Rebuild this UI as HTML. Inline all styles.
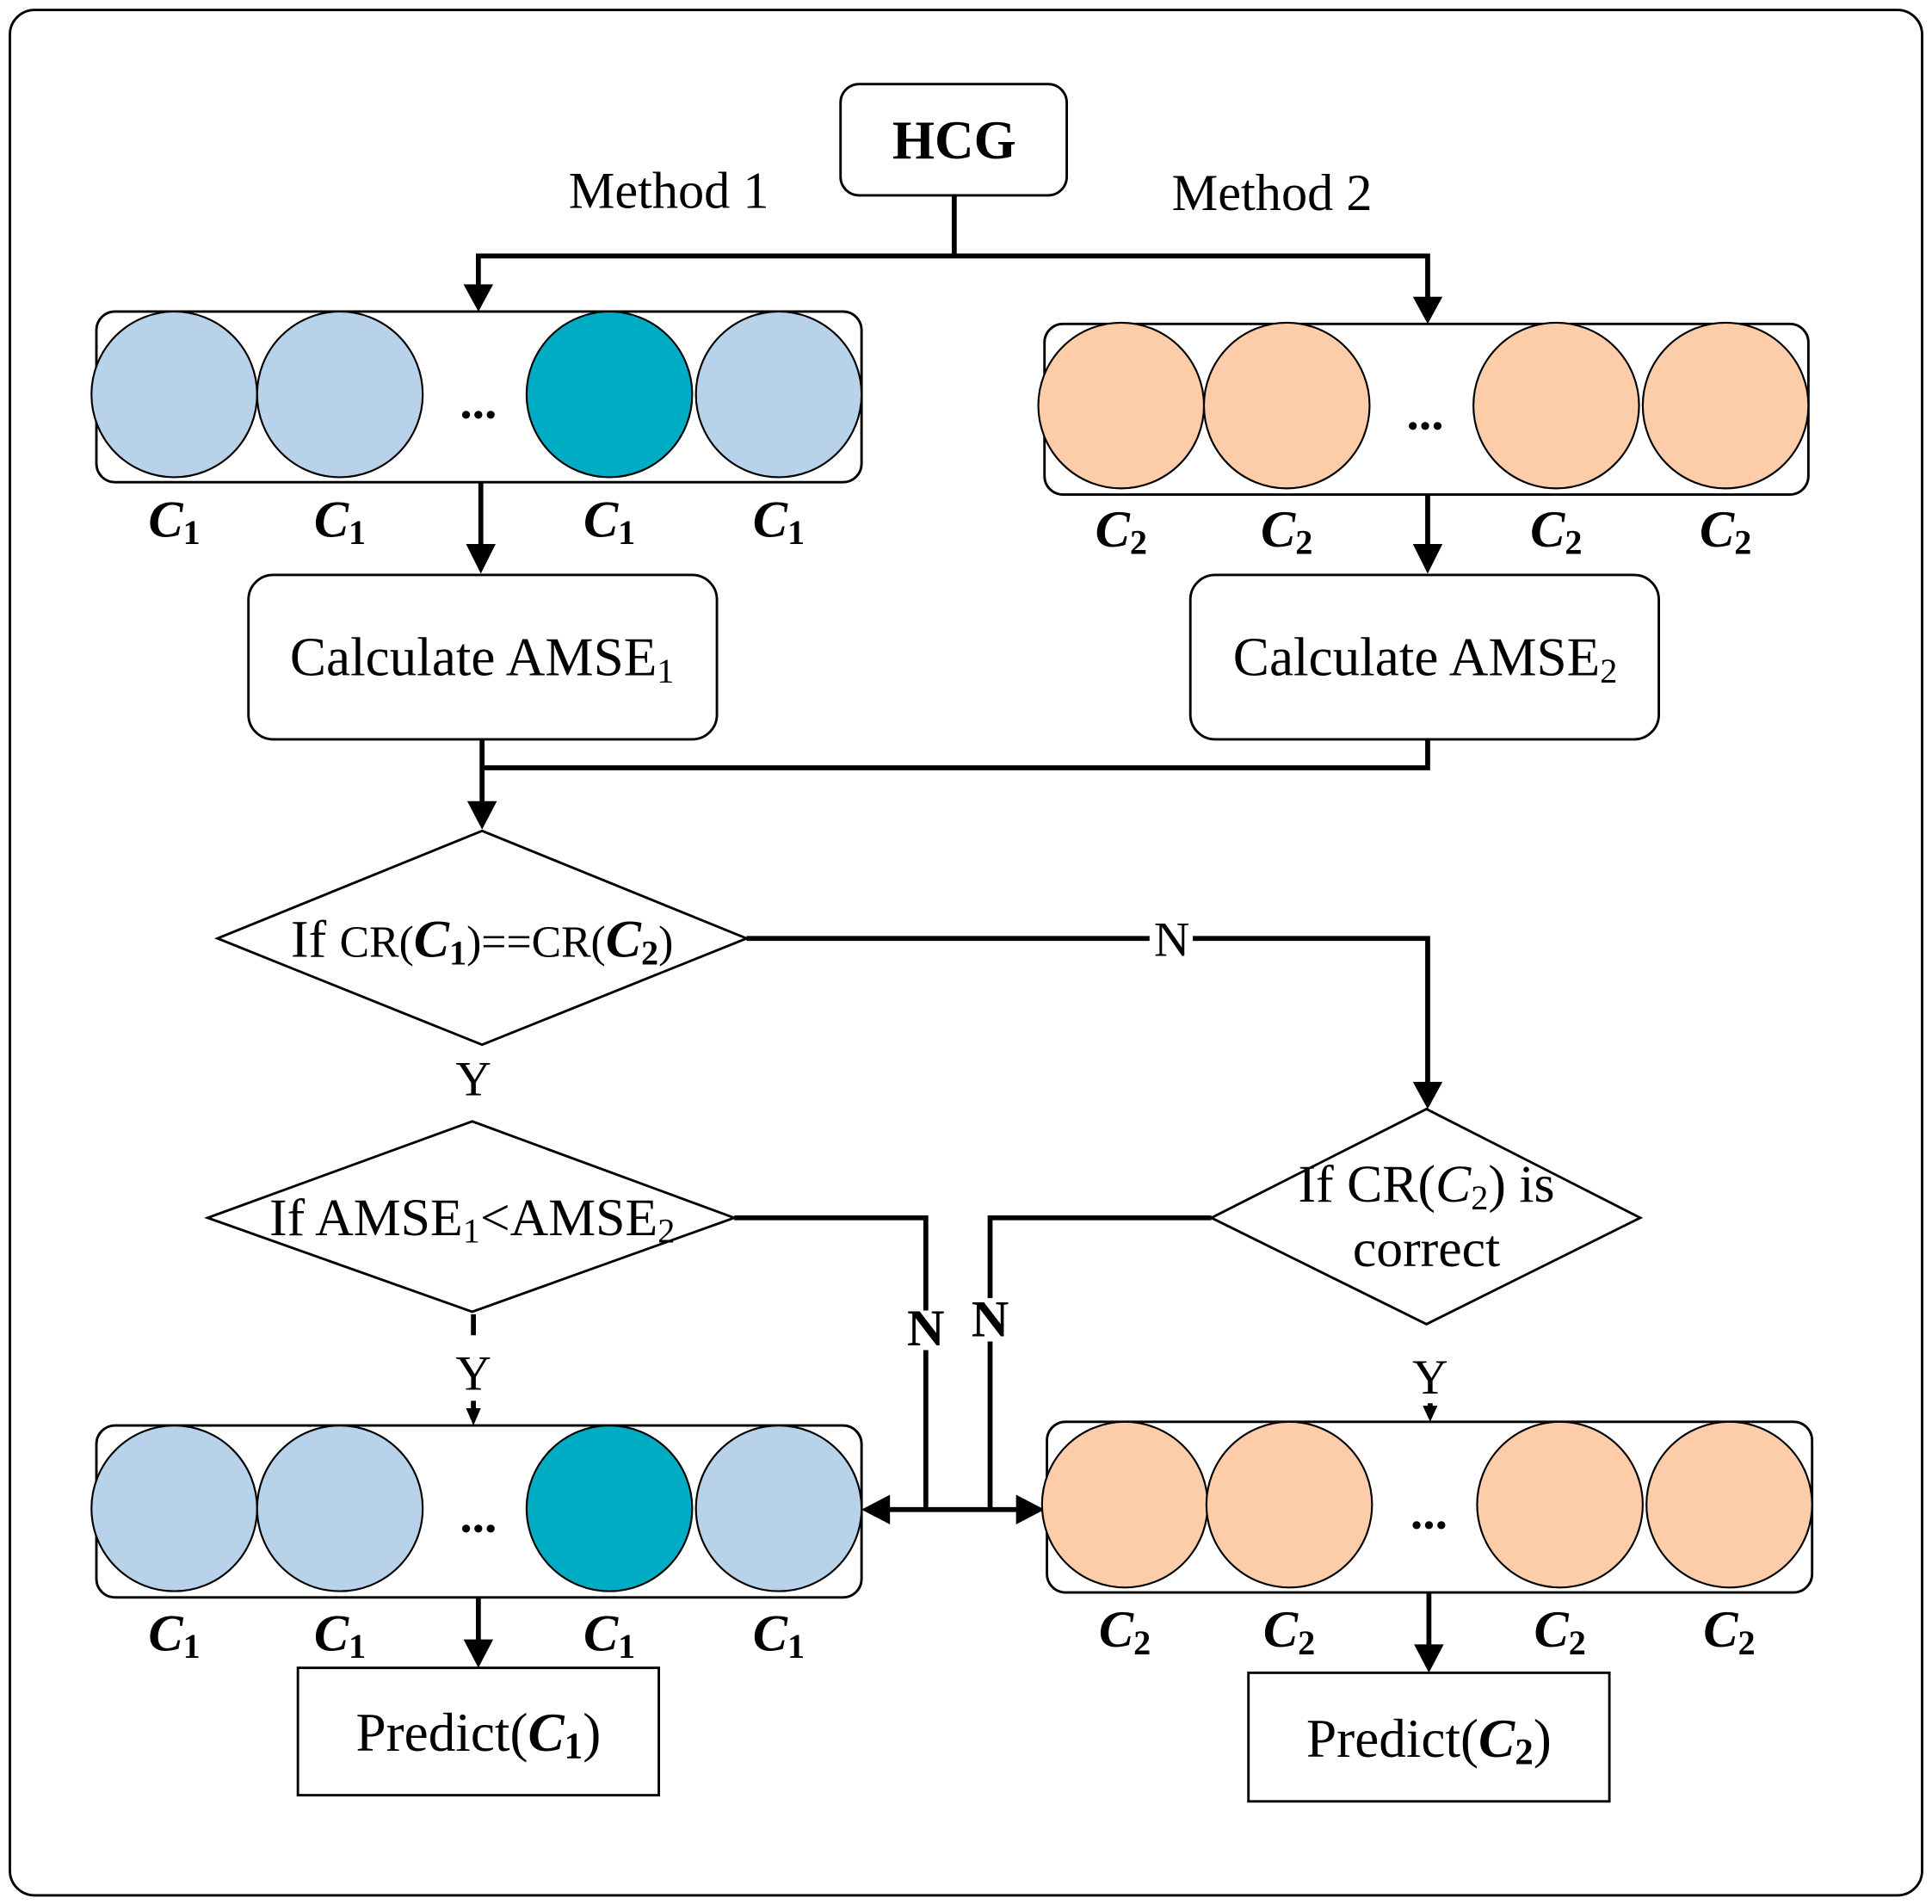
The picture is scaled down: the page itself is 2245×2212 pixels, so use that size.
<!DOCTYPE html>
<html><head><meta charset="utf-8"><style>
html,body{margin:0;padding:0;background:#fff;}
svg{display:block;}
text{font-family:"Liberation Serif",serif;fill:#000;}
</style></head><body>
<svg width="2245" height="2212" viewBox="0 0 1563 1540" xmlns="http://www.w3.org/2000/svg">
<rect x="8" y="8" width="1547" height="1525" rx="20" fill="#fff" stroke="#000" stroke-width="2"/>
<rect x="680" y="68" width="183" height="90" rx="15" fill="#fff" stroke="#000" stroke-width="2"/>
<text x="772" y="128" font-size="44" font-weight="bold" text-anchor="middle">HCG</text>
<text x="460" y="168" font-size="42">Method 1</text>
<text x="948" y="170" font-size="42">Method 2</text>
<g stroke="#000" stroke-width="4" fill="none">
<path d="M772 158 V207 M387 207 H1155 M387 205 V232 M1155 205 V242"/>
<path d="M389 390 V442 M1155 400 V442"/>
<path d="M390 598 V650 M1155 598 V621 H390"/>
<path d="M604 759 H930 M965 759 H1155 V877"/>
<path d="M594 985 H749 V1060 M749 1092 V1221 M712 1221 H801 V1085 M801 1050 V985 H980 M801 1221 H828"/>
<path d="M383 1063 V1080 M383 1133 V1140 M1157 1135 V1138"/>
<path d="M387 1292 V1328 M1156 1288 V1332"/>
</g>
<g fill="#000">
<polygon points="375,230 399,230 387,252"/>
<polygon points="1143,240 1167,240 1155,262"/>
<polygon points="377,440 401,440 389,464"/>
<polygon points="1143,440 1167,440 1155,464"/>
<polygon points="378,648 402,648 390,671"/>
<polygon points="1143,875 1167,875 1155,897"/>
<polygon points="377,1139 389,1139 383,1153"/>
<polygon points="1151,1137 1163,1137 1157,1150"/>
<polygon points="697,1221 720,1209 720,1233"/>
<polygon points="845,1221 822,1209 822,1233"/>
<polygon points="375,1326 399,1326 387,1349"/>
<polygon points="1144,1330 1168,1330 1156,1353"/>
</g>
<rect x="78" y="252" width="619" height="138" rx="15" fill="#fff" stroke="#000" stroke-width="2"/>
<g stroke="#000" stroke-width="1.5">
<circle cx="141" cy="319" r="67" fill="#b8d2ea"/><circle cx="275" cy="319" r="67" fill="#b8d2ea"/>
<circle cx="493" cy="319" r="67" fill="#00acc4"/><circle cx="630" cy="319" r="67" fill="#b8d2ea"/>
</g>
<text x="387" y="338" font-size="40" font-weight="bold" text-anchor="middle">...</text>
<rect x="845" y="262" width="618" height="138" rx="15" fill="#fff" stroke="#000" stroke-width="2"/>
<g stroke="#000" stroke-width="1.5" fill="#fdcca8">
<circle cx="907" cy="328" r="67"/><circle cx="1041" cy="328" r="67"/><circle cx="1259" cy="328" r="67"/><circle cx="1396" cy="328" r="67"/>
</g>
<text x="1153" y="347" font-size="40" font-weight="bold" text-anchor="middle">...</text>
<rect x="78" y="1153" width="619" height="139" rx="15" fill="#fff" stroke="#000" stroke-width="2"/>
<g stroke="#000" stroke-width="1.5">
<circle cx="141" cy="1220" r="67" fill="#b8d2ea"/><circle cx="275" cy="1220" r="67" fill="#b8d2ea"/>
<circle cx="493" cy="1220" r="67" fill="#00acc4"/><circle cx="630" cy="1220" r="67" fill="#b8d2ea"/>
</g>
<text x="387" y="1239" font-size="40" font-weight="bold" text-anchor="middle">...</text>
<rect x="847" y="1150" width="619" height="138" rx="15" fill="#fff" stroke="#000" stroke-width="2"/>
<g stroke="#000" stroke-width="1.5" fill="#fdcca8">
<circle cx="910" cy="1217" r="67"/><circle cx="1043" cy="1217" r="67"/><circle cx="1262" cy="1217" r="67"/><circle cx="1399" cy="1217" r="67"/>
</g>
<text x="1156" y="1236" font-size="40" font-weight="bold" text-anchor="middle">...</text>
<g font-size="42" font-weight="bold" font-style="italic" text-anchor="middle">
<text x="141" y="434">C<tspan font-size="28" dy="6" font-style="normal">1</tspan></text>
<text x="275" y="434">C<tspan font-size="28" dy="6" font-style="normal">1</tspan></text>
<text x="493" y="434">C<tspan font-size="28" dy="6" font-style="normal">1</tspan></text>
<text x="630" y="434">C<tspan font-size="28" dy="6" font-style="normal">1</tspan></text>
<text x="907" y="442">C<tspan font-size="28" dy="6" font-style="normal">2</tspan></text>
<text x="1041" y="442">C<tspan font-size="28" dy="6" font-style="normal">2</tspan></text>
<text x="1259" y="442">C<tspan font-size="28" dy="6" font-style="normal">2</tspan></text>
<text x="1396" y="442">C<tspan font-size="28" dy="6" font-style="normal">2</tspan></text>
<text x="141" y="1335">C<tspan font-size="28" dy="6" font-style="normal">1</tspan></text>
<text x="275" y="1335">C<tspan font-size="28" dy="6" font-style="normal">1</tspan></text>
<text x="493" y="1335">C<tspan font-size="28" dy="6" font-style="normal">1</tspan></text>
<text x="630" y="1335">C<tspan font-size="28" dy="6" font-style="normal">1</tspan></text>
<text x="910" y="1332">C<tspan font-size="28" dy="6" font-style="normal">2</tspan></text>
<text x="1043" y="1332">C<tspan font-size="28" dy="6" font-style="normal">2</tspan></text>
<text x="1262" y="1332">C<tspan font-size="28" dy="6" font-style="normal">2</tspan></text>
<text x="1399" y="1332">C<tspan font-size="28" dy="6" font-style="normal">2</tspan></text>
</g>
<rect x="201" y="465" width="379" height="133" rx="20" fill="#fff" stroke="#000" stroke-width="2"/>
<text x="390" y="546" font-size="44" text-anchor="middle">Calculate AMSE<tspan font-size="28" dy="6">1</tspan></text>
<rect x="963" y="465" width="379" height="133" rx="20" fill="#fff" stroke="#000" stroke-width="2"/>
<text x="1153" y="546" font-size="44" text-anchor="middle">Calculate AMSE<tspan font-size="28" dy="6">2</tspan></text>
<polygon points="390,672 604,759 390,845 176,759" fill="#fff" stroke="#000" stroke-width="2"/>
<text x="390" y="774" font-size="43" text-anchor="middle">If <tspan font-size="36">CR(</tspan><tspan font-style="italic" font-weight="bold">C</tspan><tspan font-size="28" dy="6" font-weight="bold">1</tspan><tspan dy="-6" font-size="36">)==CR(</tspan><tspan font-style="italic" font-weight="bold">C</tspan><tspan font-size="28" dy="6" font-weight="bold">2</tspan><tspan dy="-6" font-size="36">)</tspan></text>
<text x="948" y="773" font-size="40" text-anchor="middle">N</text>
<text x="383" y="886" font-size="40" text-anchor="middle">Y</text>
<polygon points="382,907 594,985 382,1061 168,985" fill="#fff" stroke="#000" stroke-width="2"/>
<text x="382" y="999" font-size="43" text-anchor="middle">If AMSE<tspan font-size="28" dy="6">1</tspan><tspan dy="-6">&lt;AMSE</tspan><tspan font-size="28" dy="6">2</tspan></text>
<polygon points="1154,897 1327,985 1154,1071 980,985" fill="#fff" stroke="#000" stroke-width="2"/>
<text x="1154" y="972" font-size="43" text-anchor="middle">If CR(<tspan font-style="italic">C</tspan><tspan font-size="28" dy="6">2</tspan><tspan dy="-6">) is</tspan></text>
<text x="1154" y="1024" font-size="43" text-anchor="middle">correct</text>
<text x="749" y="1088" font-size="42" font-weight="bold" text-anchor="middle">N</text>
<text x="801" y="1081" font-size="42" font-weight="bold" text-anchor="middle">N</text>
<text x="383" y="1124" font-size="40" text-anchor="middle">Y</text>
<text x="1157" y="1127" font-size="40" text-anchor="middle">Y</text>
<rect x="241" y="1349" width="292" height="103" fill="#fff" stroke="#000" stroke-width="2"/>
<text x="387" y="1416" font-size="44" text-anchor="middle">Predict(<tspan font-style="italic" font-weight="bold">C</tspan><tspan font-size="30" dy="6" font-weight="bold">1</tspan><tspan dy="-6">)</tspan></text>
<rect x="1010" y="1353" width="292" height="104" fill="#fff" stroke="#000" stroke-width="2"/>
<text x="1156" y="1421" font-size="44" text-anchor="middle">Predict(<tspan font-style="italic" font-weight="bold">C</tspan><tspan font-size="30" dy="6" font-weight="bold">2</tspan><tspan dy="-6">)</tspan></text>
</svg>
</body></html>
